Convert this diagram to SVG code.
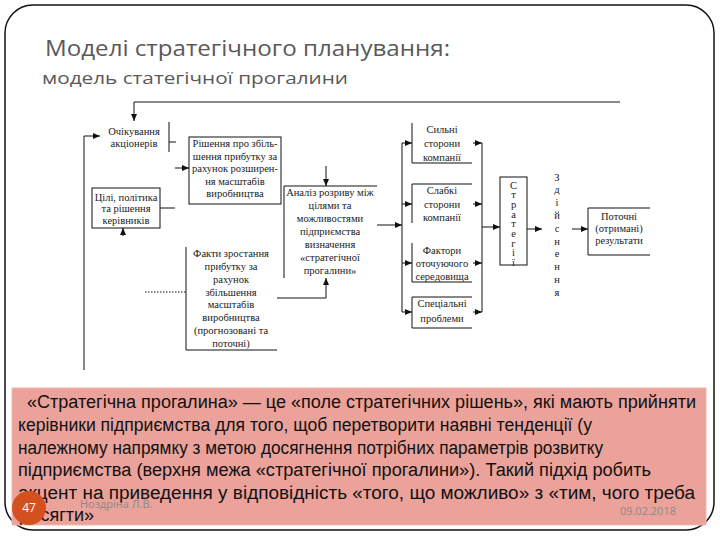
<svg xmlns="http://www.w3.org/2000/svg" width="720" height="540" viewBox="0 0 720 540">
<defs>
<marker id="arr" markerWidth="7" markerHeight="6" refX="7" refY="3" orient="auto" markerUnits="userSpaceOnUse">
<path d="M0,0 L7,3 L0,6 z" fill="#111"/>
</marker>
<style>
.t{font-family:"Liberation Serif","Times New Roman",serif;font-size:10.5px;fill:#222;text-anchor:middle}
.b{fill:none;stroke:#111;stroke-width:1}
.c{fill:none;stroke:#111;stroke-width:1}
.p{font-family:"Liberation Sans",Arial,sans-serif;font-size:18px;fill:#111}
</style>
</defs>
<rect x="0" y="0" width="720" height="540" fill="#fff"/>
<rect x="5" y="5" width="709" height="525" rx="28" fill="#fff" stroke="#111" stroke-width="1.5"/>
<g id="title">
<text x="45" y="56" font-family="Open Sans,Noto Sans,sans-serif" font-size="21" fill="#595959" textLength="405" lengthAdjust="spacingAndGlyphs">Моделі стратегічного планування:</text>
<text x="42" y="84" font-family="Open Sans,Noto Sans,sans-serif" font-size="17" fill="#595959" textLength="306" lengthAdjust="spacingAndGlyphs">модель статегічної прогалини</text>
</g>
<g id="connectors">
<path class="c" d="M620,102 H134 V121" marker-end="url(#arr)"/>
<path class="c" d="M84,370 V136 H100" marker-end="url(#arr)"/>
<path class="c" d="M169,122 V152 M169,142 H176"/>
<path class="c" d="M175,168 H189" marker-end="url(#arr)"/>
<path class="c" d="M160,208 H175"/>
<path class="c" d="M123,236 V228" marker-end="url(#arr)"/>
<path class="c" d="M326,166 V186" marker-end="url(#arr)"/>
<path class="c" d="M277,298 H326 V278" marker-end="url(#arr)"/>
<path class="c" d="M145,292 H186" stroke-dasharray="1.5,1.5"/>
<path class="c" d="M377,225 H402" marker-end="url(#arr)"/>
<path class="c" d="M402,143 V312"/>
<path class="c" d="M402,143 H412" marker-end="url(#arr)"/>
<path class="c" d="M402,204 H412" marker-end="url(#arr)"/>
<path class="c" d="M402,263 H412" marker-end="url(#arr)"/>
<path class="c" d="M402,312 H412" marker-end="url(#arr)"/>
<path class="c" d="M473,143 H482" marker-end="url(#arr)"/>
<path class="c" d="M473,204 H482" marker-end="url(#arr)"/>
<path class="c" d="M473,263 H482" marker-end="url(#arr)"/>
<path class="c" d="M473,312 H482" marker-end="url(#arr)"/>
<path class="c" d="M482,143 V312"/>
<path class="c" d="M482,227 H500" marker-end="url(#arr)"/>
<path class="c" d="M527,229 H542" marker-end="url(#arr)"/>
<path class="c" d="M572,229 H588" marker-end="url(#arr)"/>
</g>
<g id="n-ochikuvannia">
<text class="t" x="134" y="134.5">Очікування</text>
<text class="t" x="134" y="146.5">акціонерів</text>
</g>
<g id="n-tsili">
<rect class="b" x="92" y="188" width="68" height="40"/>
<text class="t" x="126" y="200.5">Цілі, політика</text>
<text class="t" x="126" y="212">та рішення</text>
<text class="t" x="126" y="223.5">керівників</text>
</g>
<g id="n-rishennia">
<rect class="b" x="189" y="137" width="92" height="67"/>
<text class="t" x="235" y="147">Рішення про збіль-</text>
<text class="t" x="235" y="159.5">шення прибутку за</text>
<text class="t" x="235" y="172">рахунок розширен-</text>
<text class="t" x="235" y="184.5">ня масштабів</text>
<text class="t" x="235" y="197">виробництва</text>
</g>
<g id="n-analiz">
<path class="b" d="M284,278 V186 H377"/>
<text class="t" x="330" y="196">Аналіз розриву між</text>
<text class="t" x="330" y="209">цілями та</text>
<text class="t" x="330" y="222">можливостями</text>
<text class="t" x="330" y="235">підприємства</text>
<text class="t" x="330" y="248">визначення</text>
<text class="t" x="330" y="261">«стратегічної</text>
<text class="t" x="330" y="274">прогалини»</text>
</g>
<g id="n-fakty">
<path class="b" d="M186,247 V350 H277"/>
<text class="t" x="231" y="256.5">Факти зростання</text>
<text class="t" x="231" y="269.5">прибутку за</text>
<text class="t" x="231" y="282.5">рахунок</text>
<text class="t" x="231" y="295.5">збільшення</text>
<text class="t" x="231" y="308">масштабів</text>
<text class="t" x="231" y="321">виробництва</text>
<text class="t" x="231" y="334">(прогнозовані та</text>
<text class="t" x="231" y="347">поточні)</text>
</g>
<g id="n-sylni">
<path class="b" d="M412,123 V163 H472"/>
<text class="t" x="442" y="132.5">Сильні</text>
<text class="t" x="442" y="146.5">сторони</text>
<text class="t" x="442" y="160.5">компанії</text>
</g>
<g id="n-slabki">
<path class="b" d="M412,223 V184 H472"/>
<text class="t" x="442" y="193.5">Слабкі</text>
<text class="t" x="442" y="207.5">сторони</text>
<text class="t" x="442" y="220.5">компанії</text>
</g>
<g id="n-faktory">
<path class="b" d="M412,243 V282 H472"/>
<text class="t" x="442" y="253.5">Фактори</text>
<text class="t" x="442" y="266.5">оточуючого</text>
<text class="t" x="442" y="279.5">середовища</text>
</g>
<g id="n-spetsialni">
<path class="b" d="M472,297 H412 V328 H472"/>
<text class="t" x="442" y="306.5">Спеціальні</text>
<text class="t" x="442" y="321.5">проблеми</text>
</g>
<g id="n-stratehii">
<rect class="b" x="500" y="177" width="27" height="88"/>
<text class="t" x="513.5" y="188.5">С</text>
<text class="t" x="513.5" y="198.2">т</text>
<text class="t" x="513.5" y="207.9">р</text>
<text class="t" x="513.5" y="217.6">а</text>
<text class="t" x="513.5" y="227.3">т</text>
<text class="t" x="513.5" y="237">е</text>
<text class="t" x="513.5" y="246.7">г</text>
<text class="t" x="513.5" y="256.4">і</text>
<text class="t" x="513.5" y="266.1">ї</text>
</g>
<g id="n-zdiisnennia">
<text class="t" x="557" y="180.5">З</text>
<text class="t" x="557" y="193.3">д</text>
<text class="t" x="557" y="206.1">і</text>
<text class="t" x="557" y="218.9">й</text>
<text class="t" x="557" y="231.7">с</text>
<text class="t" x="557" y="244.5">н</text>
<text class="t" x="557" y="257.3">е</text>
<text class="t" x="557" y="270.1">н</text>
<text class="t" x="557" y="282.9">н</text>
<text class="t" x="557" y="295.7">я</text>
</g>
<g id="n-rezultaty">
<path class="b" d="M650,208 H588 V255 H650"/>
<text class="t" x="619" y="219.5">Поточні</text>
<text class="t" x="619" y="231.5">(отримані)</text>
<text class="t" x="619" y="243.5">результати</text>
</g>
<g id="definition">
<rect x="12" y="388" width="694" height="137" fill="#EAA29B" stroke="#F0B8B2" stroke-width="1"/>
<text class="p" x="27" y="408" textLength="669" lengthAdjust="spacingAndGlyphs">«Стратегічна прогалина» — це «поле стратегічних рішень», які мають прийняти</text>
<text class="p" x="18" y="431" textLength="574" lengthAdjust="spacingAndGlyphs">керівники підприємства для того, щоб перетворити наявні тенденції (у</text>
<text class="p" x="18" y="453.5" textLength="585" lengthAdjust="spacingAndGlyphs">належному напрямку з метою досягнення потрібних параметрів розвитку</text>
<text class="p" x="18" y="476" textLength="633" lengthAdjust="spacingAndGlyphs">підприємства (верхня межа «стратегічної прогалини»). Такий підхід робить</text>
<text class="p" x="18" y="498.5" textLength="677" lengthAdjust="spacingAndGlyphs">акцент на приведення у відповідність «того, що можливо» з «тим, чого треба</text>
<text class="p" x="20" y="521" textLength="74" lengthAdjust="spacingAndGlyphs">досягти»</text>
</g>
<g id="footer">
<circle cx="29" cy="508" r="17" fill="#D4501E"/>
<text x="29" y="512" font-family="Open Sans,Noto Sans,sans-serif" font-size="12" fill="#fff" text-anchor="middle">47</text>
<text x="80" y="508" font-family="Open Sans,Noto Sans,sans-serif" font-size="11" fill="#8a8a8a">Ноздріна Л.В.</text>
<text x="676" y="515" font-family="Open Sans,Noto Sans,sans-serif" font-size="11" fill="#8a8a8a" text-anchor="end">09.02.2018</text>
</g>
</svg>
